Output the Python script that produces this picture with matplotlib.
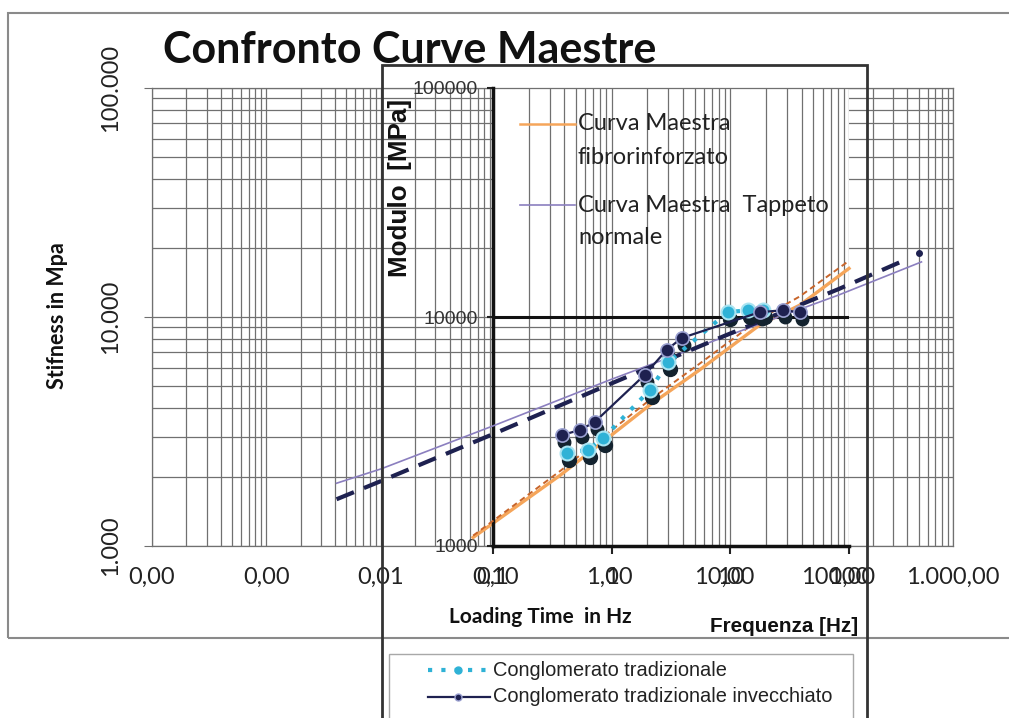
import matplotlib
matplotlib.use('Agg')
import matplotlib.pyplot as plt
from matplotlib.lines import Line2D
from matplotlib.patches import Rectangle
from matplotlib.ticker import FixedLocator, NullFormatter, LogLocator
import matplotlib.transforms as mtransforms
from matplotlib import font_manager

# ---------------- data ----------------
# outer chart: Stiffness vs loading time
out_xticks = [1e-4, 1e-3, 1e-2, 1e-1, 1, 10, 100, 1000]
out_xlabels = ['0,00', '0,00', '0,01', '0,10', '1,00', '10,00', '100,00', '1.000,00']
out_yticks = [1e3, 1e4, 1e5]
out_ylabels = ['1.000', '10.000', '100.000']

dash_x = [0.0041, 0.01, 0.1, 1, 10, 100, 377]
dash_y = [1600, 1920, 3110, 5090, 8260, 13240, 17700]
dash_end_x = [500]
dash_end_y = [19000]

purple_x = [0.0041, 0.01, 0.1, 1, 10, 100, 530]
purple_y = [1880, 2170, 3375, 5310, 8180, 12470, 17400]

# inner chart: Modulo vs Frequenza
in_xticks = [0.1, 1, 10, 100]
in_xlabels = ['0,1', '1', '10', '100']
in_yticks = [1e3, 1e4, 1e5]
in_ylabels = ['1000', '10000', '100000']

orange1_x = [0.068, 0.37, 2.1, 5.5, 17.7, 38.5, 100]
orange1_y = [1090, 2040, 4130, 5870, 9230, 11270, 16300]
orange2_x = [0.068, 0.37, 2.1, 5.5, 17.7, 38.5, 100]
orange2_y = [1110, 2130, 4350, 6250, 9800, 12300, 17600]

navy_x = [0.38, 0.54, 0.72, 1.9, 2.9, 3.9, 17.7, 27.7, 38.6]
navy_y = [3050, 3210, 3480, 5590, 7180, 8100, 10500, 10700, 10500]
cyan_x = [0.42, 0.63, 0.85, 2.1, 3.0, 9.5, 14.1, 18.8]
cyan_y = [2550, 2630, 2960, 4800, 6350, 10500, 10700, 10700]

title = 'Confronto Curve Maestre'
leg_top = [('Curva Maestra', 'fibrorinforzato'), ('Curva Maestra  Tappeto', 'normale')]
leg_bottom = ['Conglomerato tradizionale', 'Conglomerato tradizionale invecchiato']

# ---------------- style ----------------
names = {f.name for f in font_manager.fontManager.ttflist}
NARROW = 'Liberation Sans Narrow' if 'Liberation Sans Narrow' in names else 'Liberation Sans'
narrow_scale = 1.0 if NARROW == 'Liberation Sans Narrow' else 0.85
CAL = 'Lato'

W, H = 1009, 718
def fx(px):
    return px / W
def fy(py):
    return 1 - py / H

gc = '#707070'
c_or1 = '#F5A55A'
c_or2 = '#C8652B'
c_pur = '#8B7FBF'
c_navy = '#1E2150'
c_cyan = '#2FB2D6'
c_shadow = '#13222E'

fig = plt.figure(figsize=(W / 100, H / 100), dpi=100)
fig.patch.set_facecolor('white')

# ---------------- outer axes ----------------
ax_out = fig.add_axes([fx(152), fy(546), fx(953) - fx(152), fy(88) - fy(546)])
ax_out.set_xscale('log')
ax_out.set_yscale('log')
ax_out.set_xlim(1e-4, 1e3)
ax_out.set_ylim(1e3, 1e5)
ax_out.set_xticks(out_xticks)
ax_out.set_xticklabels(out_xlabels, fontfamily=CAL, fontsize=17, color='#222222')
ax_out.set_yticks(out_yticks)
ax_out.set_yticklabels(out_ylabels, fontfamily=CAL, fontsize=17, color='#222222',
                       rotation=90, va='center')
for a in (ax_out.xaxis, ax_out.yaxis):
    a.set_minor_locator(LogLocator(base=10, subs=range(2, 10), numticks=100))
    a.set_minor_formatter(NullFormatter())
ax_out.grid(True, which='both', color=gc, lw=0.9)
ax_out.tick_params(axis='x', which='both', length=0, pad=15)
ax_out.tick_params(axis='y', which='major', length=6, color=gc, pad=16)
ax_out.tick_params(axis='y', which='minor', length=0)
for s in ax_out.spines.values():
    s.set_color(gc)
    s.set_linewidth(0.9)

# ---------------- inner axes ----------------
ax_in = fig.add_axes([fx(493), fy(546), fx(849) - fx(493), fy(88) - fy(546)])
ax_in.set_facecolor('white')

# outer-coordinate curves drawn above the inner background
ax_in.plot(purple_x, purple_y, color=c_pur, lw=1.2, transform=ax_out.transData,
           clip_on=False, zorder=3)
ax_in.plot(dash_x, dash_y, color=c_navy, lw=3, dashes=(4.5, 2.6), transform=ax_out.transData,
           clip_on=False, zorder=3.2)
ax_in.plot(dash_end_x, dash_end_y, 'o', ms=4, color=c_navy, transform=ax_out.transData,
           clip_on=False, zorder=3.2)

# orange master curves
ax_in.plot(orange1_x, orange1_y, color=c_or1, lw=2.4, clip_on=False, zorder=2.5)
ax_in.plot(orange2_x, orange2_y, color=c_or2, lw=1.4, dashes=(3, 2), clip_on=False, zorder=2.6)

# shadows of markers
sh = mtransforms.offset_copy(ax_in.transData, fig=fig, x=2, y=-7, units='dots')
ax_in.plot(cyan_x, cyan_y, 'o', ms=10, color=c_shadow, mec=c_shadow, transform=sh, zorder=4)
ax_in.plot(navy_x, navy_y, 'o', ms=9, color=c_shadow, mec=c_shadow, transform=sh, zorder=4)

ax_in.plot(cyan_x, cyan_y, color=c_cyan, lw=3, linestyle=(0, (1, 2.2)), marker='o', ms=10,
           mfc=c_cyan, mec='#A8E4F2', mew=1.5, zorder=5)
ax_in.plot(navy_x, navy_y, color=c_navy, lw=1.6, marker='o', ms=9.5,
           mfc=c_navy, mec='#9AA0D0', mew=1.2, zorder=6)

ax_in.set_xscale('log')
ax_in.set_yscale('log')
ax_in.set_xlim(0.1, 100)
ax_in.set_ylim(1e3, 1e5)
ax_in.set_xticks(in_xticks)
ax_in.set_xticklabels(in_xlabels, fontfamily=CAL, fontsize=17, color='#222222')
ax_in.xaxis.set_minor_locator(LogLocator(base=10, subs=range(2, 10), numticks=100))
ax_in.xaxis.set_minor_formatter(NullFormatter())
ax_in.set_yticks(in_yticks)
ax_in.set_yticklabels(in_ylabels, fontfamily=NARROW, fontsize=16.5 * narrow_scale, color='#333333')
ax_in.yaxis.set_minor_locator(FixedLocator([2000, 3000, 4000, 5000, 6000, 7000, 8000, 9000]))
ax_in.yaxis.set_minor_formatter(NullFormatter())
ax_in.grid(True, axis='x', which='both', color=gc, lw=0.9)
ax_in.grid(True, axis='y', which='both', color=gc, lw=0.9)
ax_in.axhline(1e4, color='#111111', lw=2.2, zorder=2)
ax_in.tick_params(axis='x', which='major', length=6, width=1.5, color='#222222', pad=9)
ax_in.tick_params(axis='x', which='minor', length=0)
ax_in.tick_params(axis='y', which='major', length=4, width=1.5, color='#222222', pad=7)
ax_in.tick_params(axis='y', which='minor', length=0)
for k in ('top', 'right'):
    ax_in.spines[k].set_visible(False)
for k in ('left', 'bottom'):
    ax_in.spines[k].set_color('#111111')
    ax_in.spines[k].set_linewidth(2.5)

# ---------------- frames ----------------
fig.add_artist(Rectangle((fx(8), fy(638)), fx(1012) - fx(8), fy(13) - fy(638),
                         transform=fig.transFigure, fill=False, ec='#8a8a8a', lw=1.5))
fig.add_artist(Rectangle((fx(382), fy(730)), fx(867) - fx(382), fy(65) - fy(730),
                         transform=fig.transFigure, fill=False, ec='#333333', lw=2))
fig.add_artist(Rectangle((fx(389), fy(730)), fx(853) - fx(389), fy(654) - fy(730),
                         transform=fig.transFigure, fc='white', ec='#a8a8a8', lw=1))

# ---------------- texts ----------------
fig.text(fx(163), fy(63), title, fontfamily=CAL, fontweight='bold', fontsize=31,
         ha='left', va='baseline', color='#111111')
fig.text(fx(58), fy(316), 'Stifness in Mpa', fontfamily=CAL, fontweight='bold', fontsize=15.5,
         rotation=90, ha='center', va='center', color='#111111')
fig.text(fx(400), fy(188), 'Modulo  [MPa]', fontfamily=NARROW, fontweight='bold',
         fontsize=22 * narrow_scale, rotation=90, ha='center', va='center', color='#111111')
fig.text(fx(540), fy(617), 'Loading Time  in Hz', fontfamily=CAL, fontweight='bold', fontsize=15,
         ha='center', va='center', color='#111111')
fig.text(fx(784), fy(626), 'Frequenza [Hz]', fontfamily=NARROW, fontweight='bold',
         fontsize=17.5 * narrow_scale, ha='center', va='center', color='#111111')

# top legend (inner chart)
for (l1, l2), col, yy in zip(leg_top, [c_or1, c_pur], [124, 205]):
    fig.add_artist(Line2D([fx(520), fx(575)], [fy(yy), fy(yy)], transform=fig.transFigure,
                          color=col, lw=1.8 if col == c_or1 else 1.2))
    fig.text(fx(578), fy(yy), l1, fontfamily=CAL, fontsize=17, ha='left', va='center', color='#222222')
    fig.text(fx(578), fy(yy + 33), l2, fontfamily=CAL, fontsize=17, ha='left', va='center', color='#222222')

# bottom legend
y1, y2 = 670, 697
fig.add_artist(Line2D([fx(428), fx(488)], [fy(y1), fy(y1)], transform=fig.transFigure,
                      color=c_cyan, lw=3, linestyle=(0, (1, 2.2))))
fig.add_artist(Line2D([fx(458)], [fy(y1)], transform=fig.transFigure, marker='o', ms=5,
                      color=c_cyan, lw=0))
fig.add_artist(Line2D([fx(428), fx(490)], [fy(y2), fy(y2)], transform=fig.transFigure,
                      color=c_navy, lw=1.6))
fig.add_artist(Line2D([fx(458)], [fy(y2)], transform=fig.transFigure, marker='o', ms=5,
                      color=c_navy, mec='#9AA0D0', lw=0))
for txt, yy in zip(leg_bottom, [y1, y2]):
    fig.text(fx(493), fy(yy), txt, fontfamily=NARROW, fontsize=17 * narrow_scale,
             ha='left', va='center', color='#222222')

fig.savefig('out.png', dpi=100, facecolor='white')
